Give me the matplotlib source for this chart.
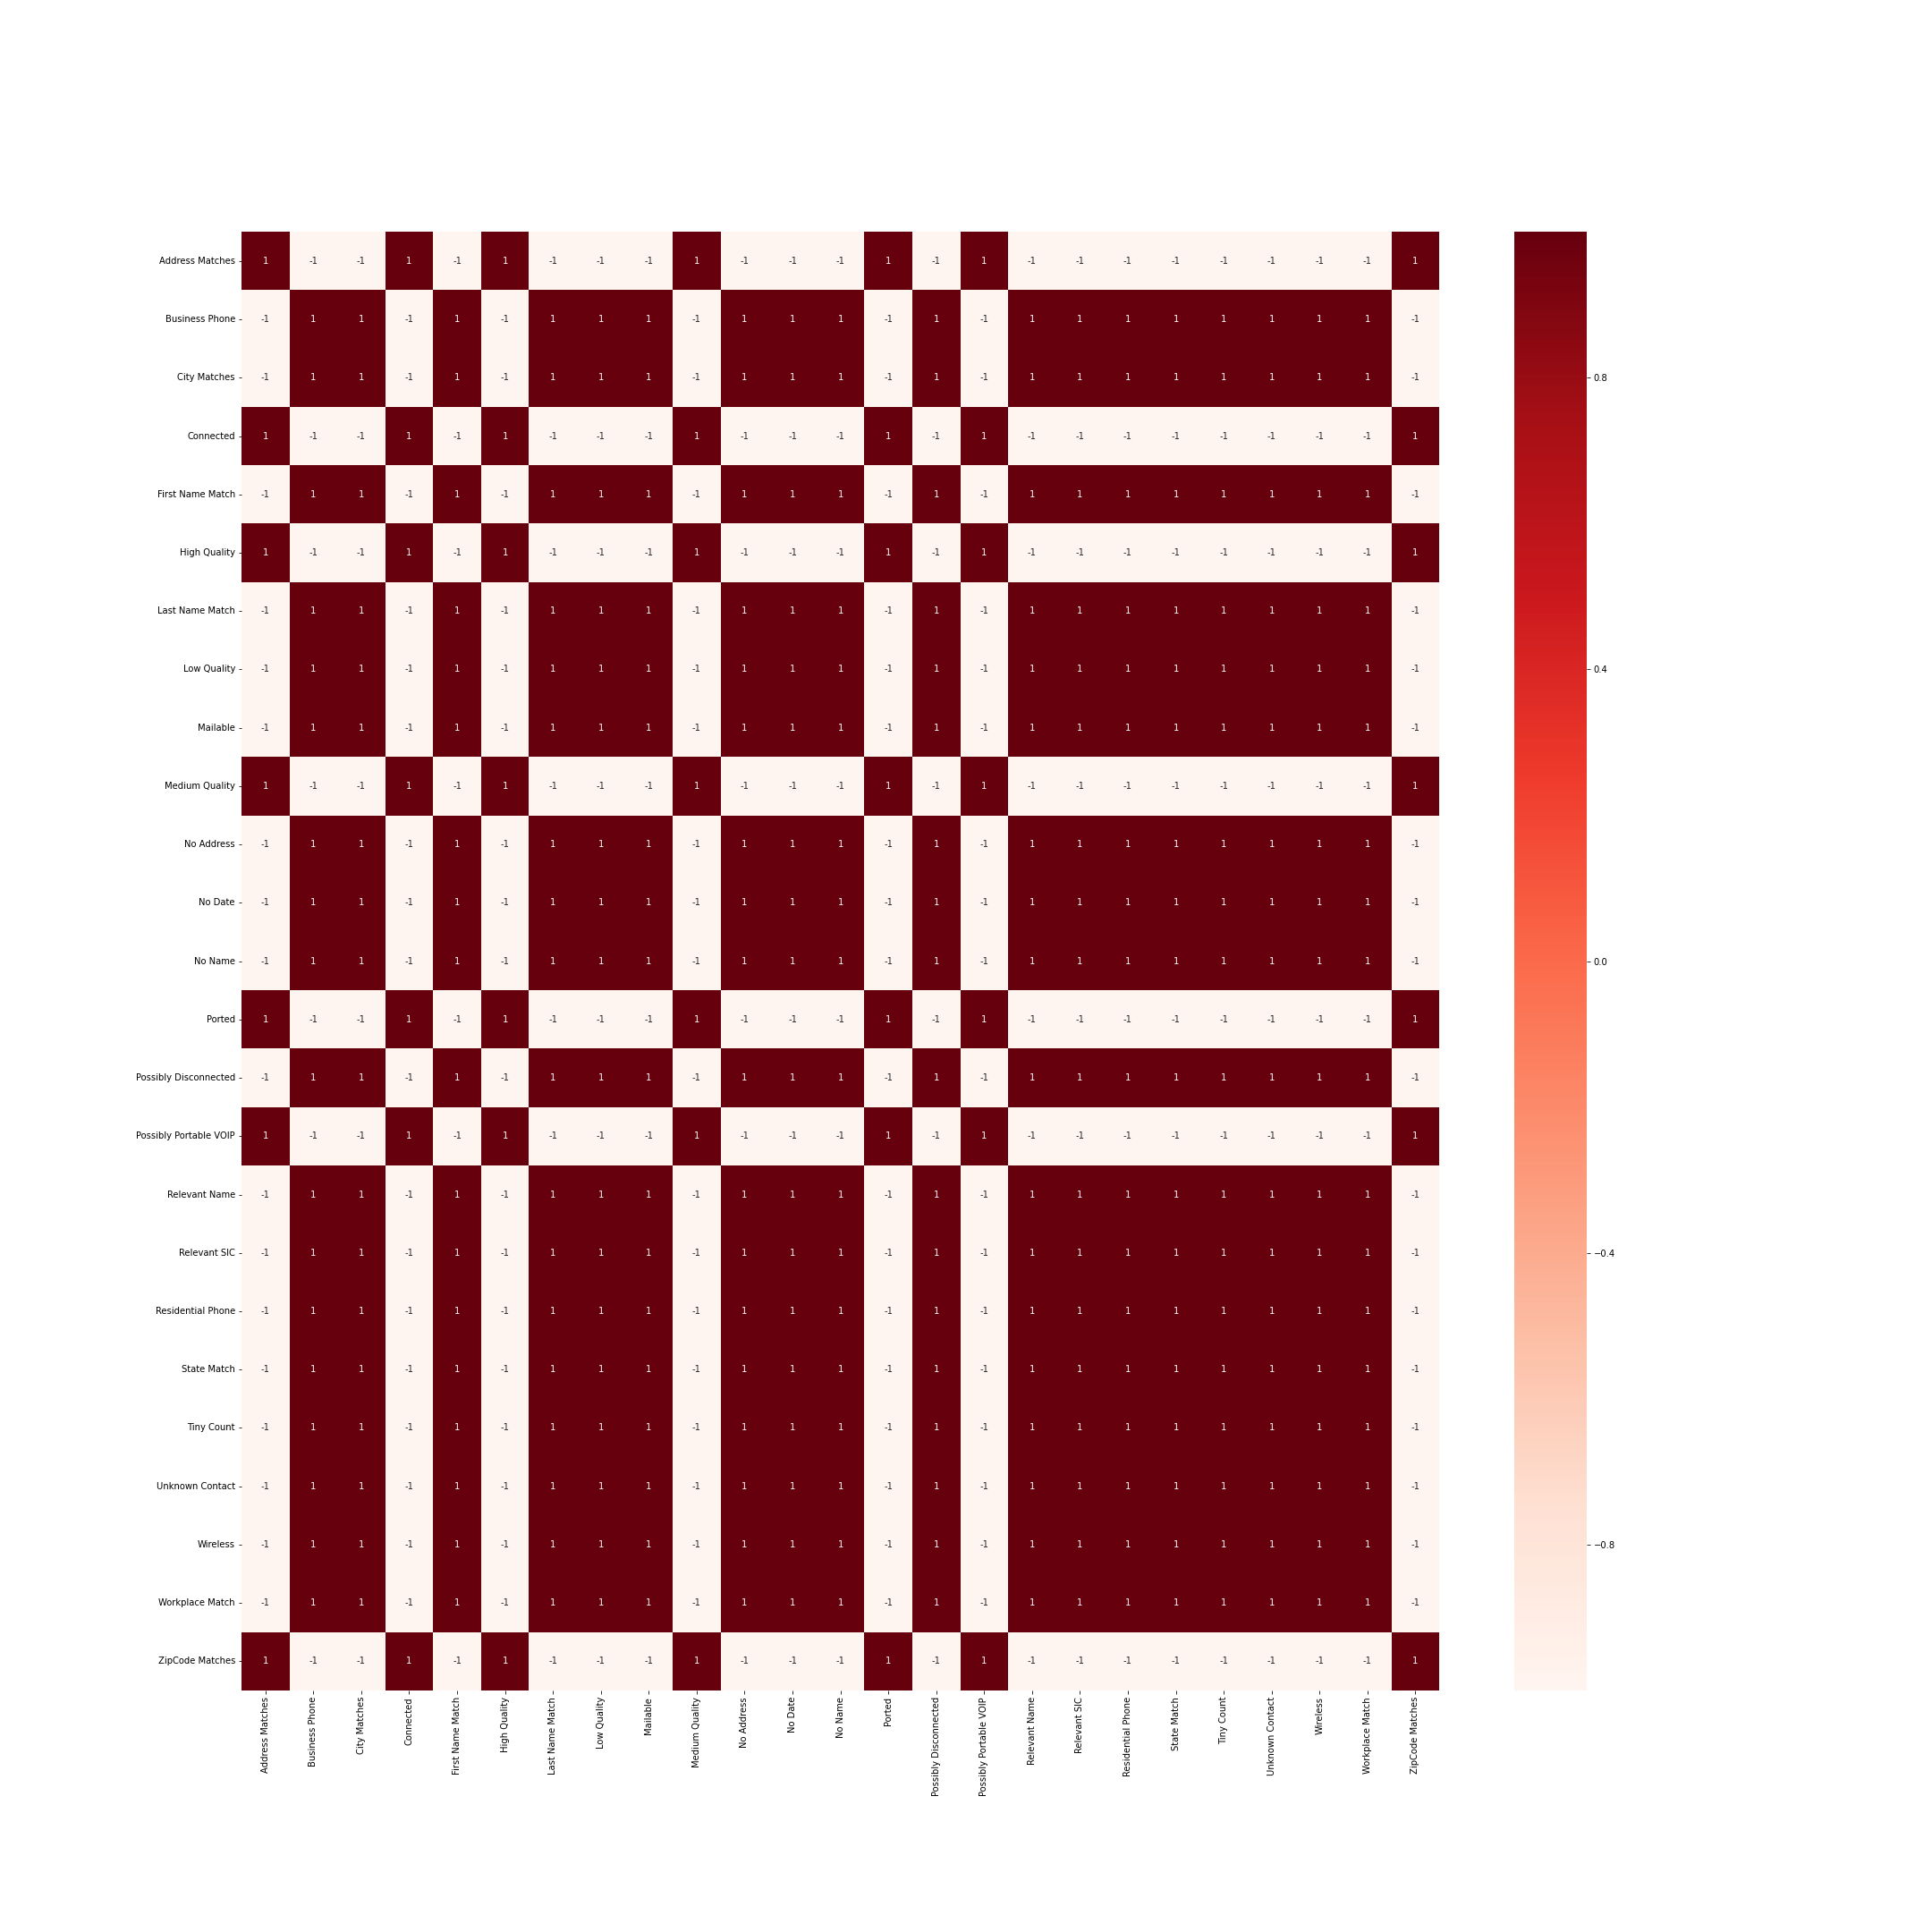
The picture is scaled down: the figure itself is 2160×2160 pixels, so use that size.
import numpy as np
import pandas as pd
import matplotlib
matplotlib.use('Agg')
import matplotlib.pyplot as plt
import seaborn as sns


COLUNAS = ['Address Matches', 'Business Phone', 'City Matches', 'Connected',
           'First Name Match', 'High Quality', 'Last Name Match', 'Low Quality',
           'Mailable', 'Medium Quality', 'No Address', 'No Date', 'No Name',
           'Ported', 'Possibly Disconnected', 'Possibly Portable VOIP',
           'Relevant Name', 'Relevant SIC', 'Residential Phone', 'State Match',
           'Tiny Count', 'Unknown Contact', 'Wireless', 'Workplace Match',
           'ZipCode Matches']

# '+' = 1, '-' = -1, uma linha por coluna
LINHA_A = '+--+-+---+---+-+--------+'
LINHA_B = '-++-+-+++-+++-+-++++++++-'
LINHAS = [LINHA_A, LINHA_B, LINHA_B, LINHA_A, LINHA_B, LINHA_A, LINHA_B,
          LINHA_B, LINHA_B, LINHA_A, LINHA_B, LINHA_B, LINHA_B, LINHA_A,
          LINHA_B, LINHA_A, LINHA_B, LINHA_B, LINHA_B, LINHA_B, LINHA_B,
          LINHA_B, LINHA_B, LINHA_B, LINHA_A]

valores = [[1 if c == '+' else -1 for c in linha] for linha in LINHAS]
corr = pd.DataFrame(valores, index=COLUNAS, columns=COLUNAS)

fig, ax = plt.subplots(figsize=(30, 30), dpi=72)
fig.subplots_adjust(left=0.125, right=0.9, bottom=0.125, top=0.88)

sns.heatmap(corr, annot=True, cmap='Reds', ax=ax,
            cbar_kws={'ticks': [-0.8, -0.4, 0.0, 0.4, 0.8]})

plt.savefig('out.png', dpi=72)
